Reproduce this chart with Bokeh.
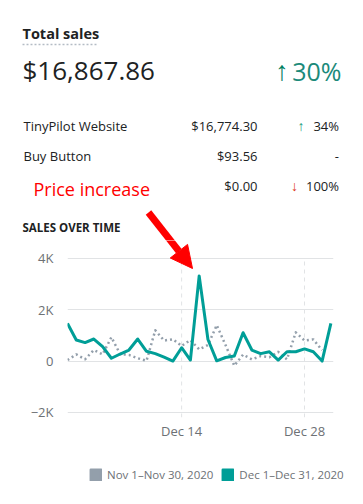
from bokeh.plotting import figure
from bokeh.layouts import column
from bokeh.models import (Range1d, FixedTicker, Label, Arrow, NormalHead,
                          Legend, LegendItem)
from bokeh.embed import file_html
from bokeh.resources import INLINE

# ---------------- data ----------------
dec_days = list(range(1, 32))
dec_sales = [1470, 820, 720, 860, 560, 110, 275, 430, 860, 380, 290, 150, 0,
             520, 40, 3320, 840, 10, 140, 195, 1105, 430, 290, 360, 40, 364,
             364, 475, 364, 0, 1470]
nov_days = list(range(1, 31))
nov_sales = [40, 260, 70, 430, 260, 930, 270, 240, 110, 10, 1200, 800, 850,
             590, 820, 455, 625, 1400, 625, -180, 250, 65, 190, 150, 360, 65,
             1120, 800, 845, 420]

y_ticks = [-2000, 0, 2000, 4000]
y_tick_labels = ["\u22122K", "0", "2K", "4K"]
x_ticks = [14, 28]
x_tick_labels = ["Dec 14", "Dec 28"]
legend_labels = ["Nov 1\u2013Nov 30, 2020", "Dec 1\u2013Dec 31, 2020"]

total_title = "Total sales"
total_value = "$16,867.86"
total_change = "30%"
channels = ["TinyPilot Website", "Buy Button"]
amounts = ["$16,774.30", "$93.56", "$0.00"]
changes = ["34%", "-", "100%"]
annotation_text = "Price increase"
section_title = "SALES OVER TIME"

# ---------------- styles ----------------
FONT = "Open Sans"
DARK = "#202223"
SUB = "#6d7175"
TEAL = "#009e97"
GRAY = "#939fab"
GRID = "#e1e3e5"
GREEN = "#007f5f"
RED = "#de3618"
ARROW_RED = "#ff0000"

PAGE_W = 363
TOP_H = 240          # header block (page rows 0..240)
CH_H = 208           # chart block  (page rows 240..448)
LG_H = 56            # legend block (page rows 448..504)
ML, MR, MB = 67, 30, 31


def blank(h, xr, yr):
    f = figure(width=PAGE_W, height=h, output_backend="svg",
               toolbar_location=None, x_range=xr, y_range=yr,
               min_border=0, x_axis_location=None, y_axis_location=None,
               title=None, frame_align=False)
    f.grid.visible = False
    f.outline_line_color = None
    f.background_fill_color = "white"
    f.border_fill_color = "white"
    return f


# ---------------- header block ----------------
top = blank(TOP_H, Range1d(0, PAGE_W), Range1d(TOP_H, 0))

BASE_FIX = 0.43   # renderer places the alphabetic baseline this many em low


def lab(text, X, Y, size, color=DARK, align="left", style="normal"):
    px = float(size.replace("px", ""))
    top.add_layout(Label(x=X, y=Y - BASE_FIX * px, text=text, text_font=FONT,
                         text_font_size=size, text_color=color,
                         text_align=align, text_baseline="alphabetic",
                         text_font_style=style))


lab(total_title, 22, 39, "14.5px", style="bold")
top.add_layout(Arrow(x_start=22, y_start=44, x_end=96, y_end=44, end=None,
                     line_color="#b4bcc5", line_width=1.5, line_dash="2 2"))
lab(total_value, 22, 81, "26px")
lab("\u2191", 281.5, 81, "27px", color=GREEN, align="center")
lab(total_change, 341, 81, "25px", color="#1b8a7a", align="right")

row_y = [131, 161.5, 191.5]
for i, name in enumerate(channels):
    lab(name, 23, row_y[i], "13px")
for i, a in enumerate(amounts):
    lab(a, 257, row_y[i], "13px", align="right")
for i, c in enumerate(changes):
    lab(c, 338.5, row_y[i], "13px", align="right")
lab("\u2191", 300.5, row_y[0], "14px", color="#23997b", align="center")
lab("\u2193", 294, row_y[2], "14px", color=RED, align="center")

lab(annotation_text, 33, 196, "18px", color=ARROW_RED)
lab(section_title, 22, 231.5, "11.5px", style="bold")

# upper part of the red arrow shaft
top.add_layout(Arrow(x_start=148, y_start=212, x_end=192, y_end=268, end=None,
                     line_color=ARROW_RED, line_width=7))

# ---------------- chart block ----------------
p = figure(width=PAGE_W, height=CH_H, output_backend="svg",
           toolbar_location=None,
           x_range=Range1d(1, 31.3), y_range=Range1d(-2200, 4700),
           min_border_left=ML, min_border_right=MR, min_border_top=0,
           min_border_bottom=MB, title=None, frame_align=False)
p.outline_line_color = None
p.background_fill_color = "white"
p.border_fill_color = "white"

p.yaxis.ticker = FixedTicker(ticks=y_ticks)
p.yaxis.major_label_overrides = dict(zip(y_ticks, y_tick_labels))
p.xaxis.ticker = FixedTicker(ticks=x_ticks)
p.xaxis.major_label_overrides = dict(zip(x_ticks, x_tick_labels))
for ax in (p.xaxis[0], p.yaxis[0]):
    ax.axis_line_color = None
    ax.major_tick_line_color = None
    ax.minor_tick_line_color = None
    ax.major_tick_out = 0
    ax.major_tick_in = 0
    ax.major_label_text_font = FONT
    ax.major_label_text_font_size = "13px"
    ax.major_label_text_color = SUB
p.yaxis.major_label_standoff = 14
p.xaxis.major_label_standoff = 4

p.ygrid.ticker = FixedTicker(ticks=y_ticks)
p.ygrid.grid_line_color = GRID
p.ygrid.grid_line_width = 1
p.xgrid.visible = False
# dashed vertical guides at the date ticks, from the lowest to the top tick
p.segment(x0=x_ticks, x1=x_ticks, y0=[p.y_range.start] * len(x_ticks),
          y1=[max(y_ticks)] * len(x_ticks), line_color=GRID, line_width=1,
          line_dash="4 4")

p.line(nov_days, nov_sales, line_color=GRAY, line_width=2.5,
       line_dash="2 3", line_join="round")
p.line(dec_days, dec_sales, line_color=TEAL, line_width=3,
       line_join="round")

# lower part of the red arrow with its head (frame screen coords)
fb = TOP_H + CH_H - MB   # page row of the frame bottom
p.add_layout(Arrow(x_start=148 - ML, y_start=fb - 212, x_end=192 - ML,
                   y_end=fb - 268, start_units="screen", end_units="screen",
                   end=NormalHead(size=22, fill_color=ARROW_RED,
                                  line_color=ARROW_RED, line_width=1),
                   line_color=ARROW_RED, line_width=7))

# ---------------- legend block ----------------
lg = blank(LG_H, Range1d(0, PAGE_W), Range1d(0, LG_H))
# hidden proxy renderers: only their legend swatches (rounded squares) show
nov_sw = lg.quad(left=[0], right=[1], top=[1], bottom=[0], fill_color=GRAY,
                 line_color=GRAY, line_width=2.5, line_join="round",
                 visible=False)
dec_sw = lg.quad(left=[0], right=[1], top=[1], bottom=[0], fill_color=TEAL,
                 line_color=TEAL, line_width=2.5, line_join="round",
                 visible=False)
legend = Legend(items=[LegendItem(label=legend_labels[0], renderers=[nov_sw]),
                       LegendItem(label=legend_labels[1], renderers=[dec_sw])],
                location=(89, 22), orientation="horizontal",
                glyph_width=13, glyph_height=13, label_height=14,
                label_standoff=5, spacing=8, padding=0, margin=0,
                border_line_color=None, background_fill_alpha=0,
                inactive_fill_alpha=0,
                label_text_font=FONT, label_text_font_size="11.5px",
                label_text_color=SUB)
lg.add_layout(legend)

layout = column(top, p, lg, spacing=0)
open("out.html", "w").write(file_html(layout, INLINE))
